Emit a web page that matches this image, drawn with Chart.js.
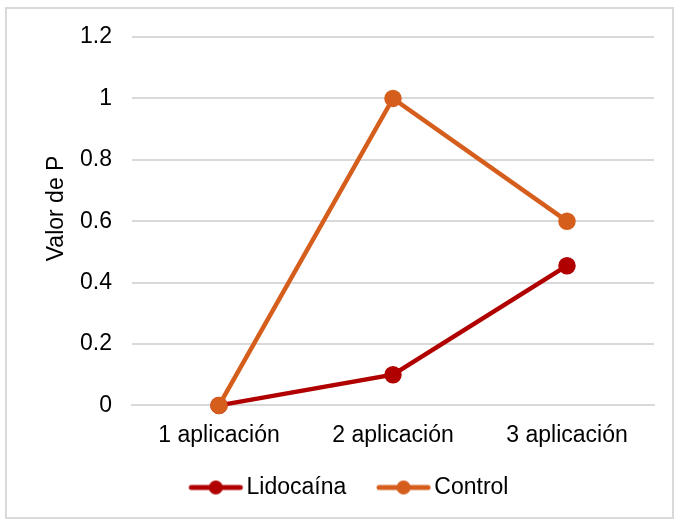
<!DOCTYPE html>
<html>
<head>
<meta charset="utf-8">
<script src="https://cdn.jsdelivr.net/npm/chart.js@4.4.0/dist/chart.umd.min.js"></script>
<style>
  body { margin: 0; background: #fff; }
  #frame { position: absolute; left: 5px; top: 7px; width: 665px; height: 508px; border: 2px solid #d9d9d9; }
  #wrap { position: absolute; left: 0; top: 0; width: 678px; height: 520px; }
</style>
</head>
<body>
<div id="frame"></div>
<div id="wrap"><canvas id="chart"></canvas></div>
<script>
// data
const categories = ["1 aplicación", "2 aplicación", "3 aplicación"];
const lidocaina = [0, 0.1, 0.455];
const control = [0, 1, 0.6];
const yTicks = [0, 0.2, 0.4, 0.6, 0.8, 1, 1.2];

const red = "#b00000";
const orange = "#d55e1c";

// legend marker: short line with a dot in the middle (left part of the image is empty space)
const makeMarker = (color) => {
  const c = document.createElement("canvas");
  c.width = 76; c.height = 16;
  const g = c.getContext("2d");
  g.strokeStyle = color; g.lineWidth = 5; g.lineCap = "round";
  g.beginPath(); g.moveTo(23, 8); g.lineTo(72, 8); g.stroke();
  g.fillStyle = color;
  g.beginPath(); g.arc(47.5, 8, 7, 0, Math.PI * 2); g.fill();
  return c;
};

Chart.defaults.font.family = "'Liberation Sans', Arial, sans-serif";
Chart.defaults.color = "#000";

new Chart(document.getElementById("chart"), {
  type: "line",
  data: {
    labels: categories,
    datasets: [
      { label: "Control", data: control, borderColor: orange, backgroundColor: orange, clip: false,
        borderWidth: 4.5, pointRadius: 6.5, pointHoverRadius: 6.5, marker: makeMarker(orange) },
      { label: "Lidocaína", data: lidocaina, borderColor: red, backgroundColor: red, clip: false,
        borderWidth: 4.5, pointRadius: 6.5, pointHoverRadius: 6.5, marker: makeMarker(red) }
    ]
  },
  options: {
    responsive: true,
    maintainAspectRatio: false,
    animation: false,
    layout: { padding: { top: 37, right: 24, left: 32, bottom: 11 } },
    plugins: {
      tooltip: { enabled: false },
      legend: {
        position: "bottom",
        labels: {
          usePointStyle: true,
          pointStyleWidth: 57.5,
          padding: 19,
          font: { size: 23 },
          generateLabels: (chart) => chart.data.datasets.map((ds, i) => ({
            text: ds.label, pointStyle: ds.marker, datasetIndex: i,
            fillStyle: ds.borderColor, strokeStyle: ds.borderColor, lineWidth: 0
          })).reverse()
        }
      }
    },
    scales: {
      x: {
        offset: true,
        grid: { display: false },
        border: { color: "#d9d9d9", width: 2 },
        ticks: { font: { size: 23 }, padding: 8 }
      },
      y: {
        min: 0, max: 1.2,
        afterFit: (s) => { s.width = 100; },
        afterBuildTicks: (s) => { s.ticks = yTicks.map(v => ({ value: v })); },
        grid: { color: "#d9d9d9", lineWidth: 2, drawTicks: false },
        border: { display: false },
        ticks: { font: { size: 23 }, padding: 20, callback: (v) => String(v) },
        title: { display: true, text: "    Valor de P", font: { size: 23 }, padding: { top: 11, bottom: 0 } }
      }
    }
  }
});
</script>
</body>
</html>
